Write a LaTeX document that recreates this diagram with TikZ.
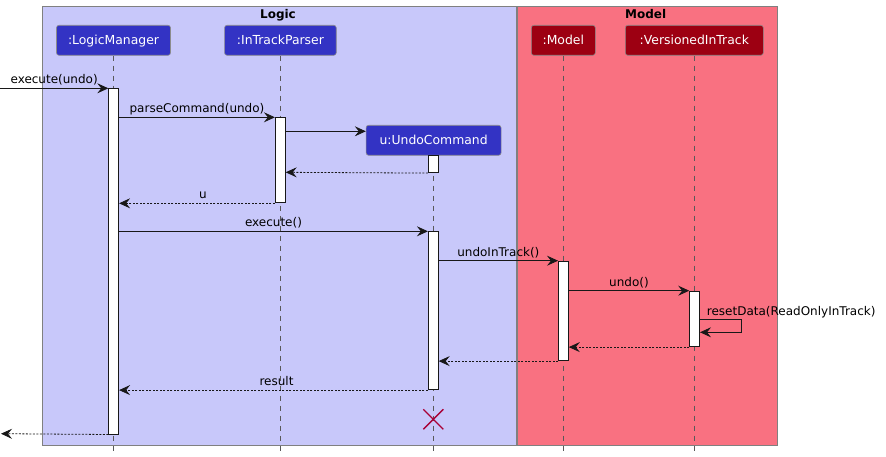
\documentclass[tikz,border=0pt]{standalone}
\usepackage{fontspec}
\setmainfont{DejaVu Sans}
\usetikzlibrary{arrows.meta,calc}
\definecolor{logicC}{HTML}{3333C4}
\definecolor{logicT}{HTML}{C8C8FA}
\definecolor{modelC}{HTML}{9D0012}
\definecolor{modelT}{HTML}{F97181}
\definecolor{lineC}{HTML}{181818}
\definecolor{destroyC}{HTML}{A80036}
\begin{document}
\begin{tikzpicture}[x=1pt,y=-1pt,
  font=\fontsize{12}{14}\selectfont,
  group/.style={draw=black!50, line width=0.8pt},
  grouptitle/.style={anchor=base, inner sep=0pt, font=\fontsize{12}{14}\selectfont\bfseries},
  part/.style={rounded corners=2.5pt, minimum height=30pt, inner sep=0pt,
    text height=9pt, text depth=0pt, text=white, draw=black!45, line width=0.6pt,
    font=\fontsize{12.4}{14}\selectfont},
  logicpart/.style={part, fill=logicC},
  modelpart/.style={part, fill=modelC},
  life/.style={draw=black!65, line width=0.7pt, dash pattern=on 5pt off 5pt},
  act/.style={draw=lineC, fill=white, line width=0.8pt, minimum width=10pt, inner sep=0pt, anchor=north},
  msg/.style={draw=lineC, line width=0.8pt, -{Stealth[length=11pt,width=10pt,inset=4pt]}},
  ret/.style={msg, dash pattern=on 2pt off 1.5pt},
  lbl/.style={anchor=base, yshift=4.4pt, inner sep=0pt, text=black},
  destroy/.style={draw=destroyC, line width=1.3pt}
]
\useasboundingbox (0,0) rectangle (886,457);

% group boxes
\draw[group, fill=logicT] (42.3,6.3) rectangle (516,445);
\draw[group, fill=modelT] (517.3,6.3) rectangle (777.7,445);
\node[grouptitle] (tLogic) at (278,19) {Logic};
\node[grouptitle] (tModel) at (645.7,19) {Model};

% participants
\node[logicpart, minimum width=114pt] (pLM) at (113.5,40.3) {:LogicManager};
\node[logicpart, minimum width=111.7pt] (pP) at (280.4,40.3) {:InTrackParser};
\node[logicpart, minimum width=135pt] (pU) at (433.6,140.3) {u:UndoCommand};
\node[modelpart, minimum width=64pt] (pM) at (563.3,40.3) {:Model};
\node[modelpart, minimum width=138pt] (pV) at (694.3,40.3) {:VersionedInTrack};

\coordinate (bottom) at (0,452);
\draw[life] (pLM.south) -- (pLM.south |- bottom);
\draw[life] (pP.south) -- (pP.south |- bottom);
\draw[life] (pU.south) -- (pU.south |- bottom);
\draw[life] (pM.south) -- (pM.south |- bottom);
\draw[life] (pV.south) -- (pV.south |- bottom);

% activation bars
\node[act, minimum height=345.4pt] (aLM) at (113.7,88.3) {};
\node[act, minimum height=85.2pt] (aP) at (280.3,117.3) {};
\node[act, minimum height=17pt] (aU1) at (433.3,155.3) {};
\node[act, minimum height=158pt] (aU2) at (433.3,231.3) {};
\node[act, minimum height=99.6pt] (aM) at (563.4,260.7) {};
\node[act, minimum height=55.6pt] (aV) at (694.6,290.7) {};

% message levels
\coordinate (in) at (0,88.3);
\coordinate (m3) at (0,131.3);
\coordinate (m4) at (0,172.3);
\coordinate (m6) at (0,231.3);
\coordinate (m9a) at (0,319.3);
\coordinate (m9b) at (741.7,332.3);
\coordinate (out) at (1,433.7);

% messages
\draw[msg] (in) -- (aLM.north west) node[lbl, midway] {execute(undo)};
\draw[msg] (aLM.east |- aP.north) -- (aP.north west) node[lbl, midway] {parseCommand(undo)};
\draw[msg] (aP.east |- m3) -- (pU.west |- m3);
\draw[ret] (aU1.south west) -- (aP.east |- m4);
\draw[ret] (aP.south west) -- (aLM.east |- aP.south) node[lbl, midway, xshift=6pt] {u};
\draw[msg] (aLM.east |- m6) -- (aU2.north west) node[lbl, midway] {execute()};
\draw[msg] (aU2.east |- aM.north) -- (aM.north west) node[lbl, midway] {undoInTrack()};
\draw[msg] (aM.east |- aV.north) -- (aV.north west) node[lbl, midway] {undo()};
\draw[msg] (aV.east |- m9a) -| (m9b) -- (aV.east |- m9b);
\node[anchor=base west, inner sep=0pt] (lReset) at (706.7,315) {resetData(ReadOnlyInTrack)};
\draw[ret] (aV.south west) -- (aM.east |- aV.south);
\draw[ret] (aM.south west) -- (aU2.east |- aM.south);
\draw[ret] (aU2.south west) -- (aLM.east |- aU2.south) node[lbl, midway, xshift=3pt] {result};
\draw[ret] (aLM.south west) -- (out);

% destroy
\coordinate (dU) at (433.3,419.3);
\draw[destroy] ($(dU)+(-10,-10)$) -- ($(dU)+(10,10)$);
\draw[destroy] ($(dU)+(-10,10)$) -- ($(dU)+(10,-10)$);
\end{tikzpicture}
\end{document}
